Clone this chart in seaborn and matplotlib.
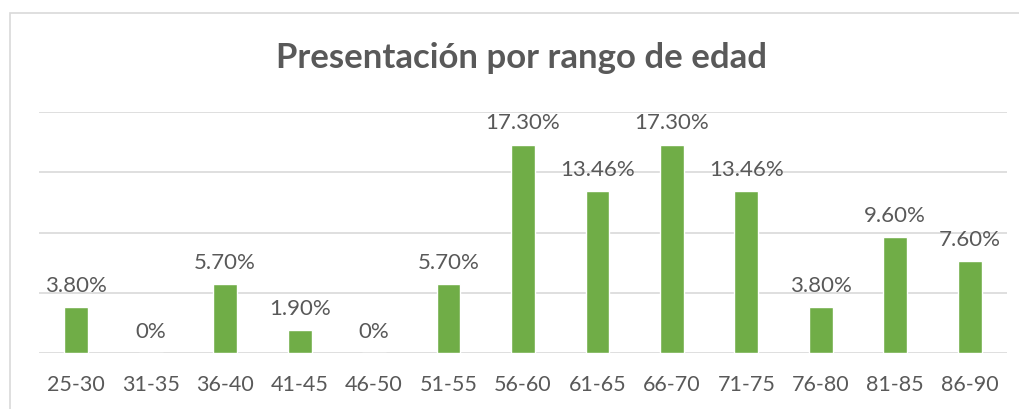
import pandas as pd
import numpy as np
import matplotlib
matplotlib.use("Agg")
import matplotlib.pyplot as plt
import seaborn as sns
from matplotlib.patches import Rectangle

# age ranges and share of patients (%)
rangos = ["25-30", "31-35", "36-40", "41-45", "46-50", "51-55", "56-60",
          "61-65", "66-70", "71-75", "76-80", "81-85", "86-90"]
porcentajes = [3.80, 0, 5.70, 1.90, 0, 5.70, 17.30,
               13.46, 17.30, 13.46, 3.80, 9.60, 7.60]
etiquetas = ["3.80%", "0%", "5.70%", "1.90%", "0%", "5.70%", "17.30%",
             "13.46%", "17.30%", "13.46%", "3.80%", "9.60%", "7.60%"]

df = pd.DataFrame({"rango": rangos, "pct": porcentajes})

sns.set_style("white")
plt.rcParams["font.family"] = ["Lato", "DejaVu Sans"]

gris = "#595959"
fig = plt.figure(figsize=(10.19, 4.09), dpi=100)
ax = fig.add_axes([39/1019, 56/409, 968/1019, 241/409])

sns.barplot(data=df, x="rango", y="pct", color="#70AD47", width=0.32,
            saturation=1, ax=ax, zorder=3)

ax.set_ylim(0, 20)
ax.set_xlim(-0.5, len(rangos) - 0.5)
ax.set_yticks([0, 5, 10, 15, 20])
ax.yaxis.grid(True, color="#D9D9D9", linewidth=1.2, zorder=0)
ax.tick_params(axis="y", left=False, labelleft=False)
ax.tick_params(axis="x", bottom=False, labelsize=15.5, labelcolor=gris, pad=12)
for s in ax.spines.values():
    s.set_visible(False)
ax.set_xlabel("")
ax.set_ylabel("")

for i, (v, t) in enumerate(zip(porcentajes, etiquetas)):
    ax.annotate(t, (i, v), xytext=(0, 8), textcoords="offset points",
                ha="center", va="bottom", fontsize=16, color=gris)

fig.text(522/1019, 1 - 58/409, "Presentación por rango de edad", ha="center",
         va="center", fontsize=25, fontweight="bold", color=gris)

fig.patches.append(Rectangle((10/1019, -0.1), 1.2, 1 - 13/409 + 0.1,
                             transform=fig.transFigure, fill=False,
                             edgecolor="#D9D9D9", linewidth=1.2))

fig.savefig("out.png", dpi=100)
